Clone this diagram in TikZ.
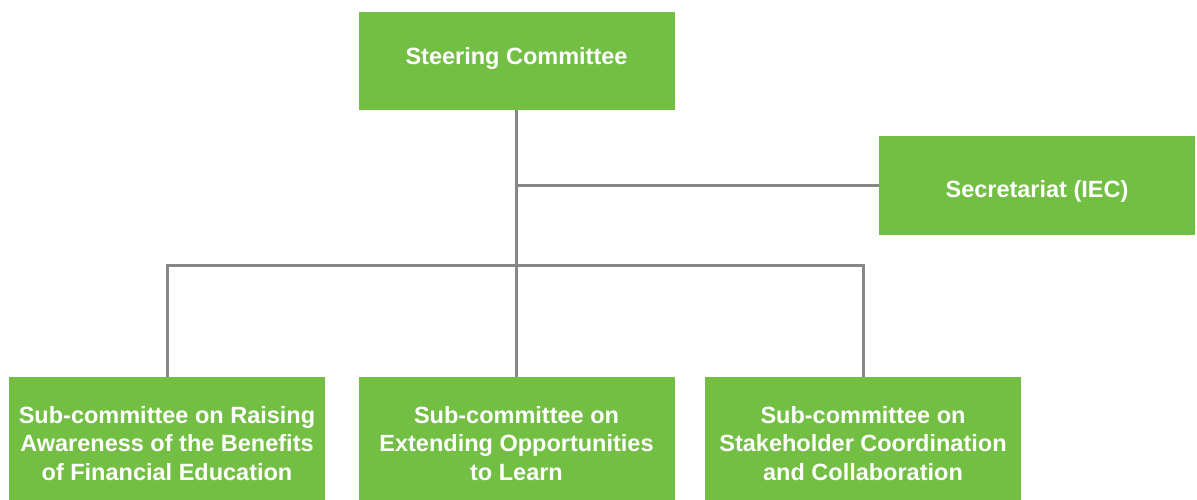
\documentclass[tikz,border=0pt]{standalone}
\usepackage{fontspec}
\setmainfont{Liberation Sans}
\usetikzlibrary{positioning}
\definecolor{boxgreen}{HTML}{72BF44}
\definecolor{linegray}{HTML}{878787}

\begin{document}
\begin{tikzpicture}[x=1pt,y=-1pt,
    unit/.style={fill=boxgreen, text=white, align=center, inner sep=0pt,
        font=\bfseries\fontsize{23.5}{28.5}\selectfont, minimum width=316pt},
    link/.style={draw=linegray, line width=3pt}]
    \useasboundingbox (0,0) rectangle (1197,500);
    % top level
    \node[unit, minimum height=98pt] (steer) at (516.5,61) {Steering Committee\rule[-11pt]{0pt}{0pt}};
    \node[unit, minimum height=99pt] (secr) at (1037,185.5) {\rule{0pt}{29pt}Secretariat (IEC)};
    % sub-committees
    \node[unit, minimum height=123pt] (subA) at (167,438.5)
        {\rule{0pt}{27pt}Sub-committee on Raising\\Awareness of the Benefits\\of Financial Education};
    \node[unit, minimum height=123pt] (subB) at (516.5,438.5)
        {\rule{0pt}{27pt}Sub-committee on\\Extending Opportunities\\to Learn};
    \node[unit, minimum height=123pt] (subC) at (863,438.5)
        {\rule{0pt}{27pt}Sub-committee on\\Stakeholder Coordination\\and Collaboration};
    % connectors
    \coordinate (bus) at (516.5,265);
    \draw[link] (steer.south) -- (subB.north);
    \draw[link] (steer.south |- secr.west) -- (secr.west);
    \draw[link] (subA.north) |- (bus) -| (subC.north);
\end{tikzpicture}
\end{document}
